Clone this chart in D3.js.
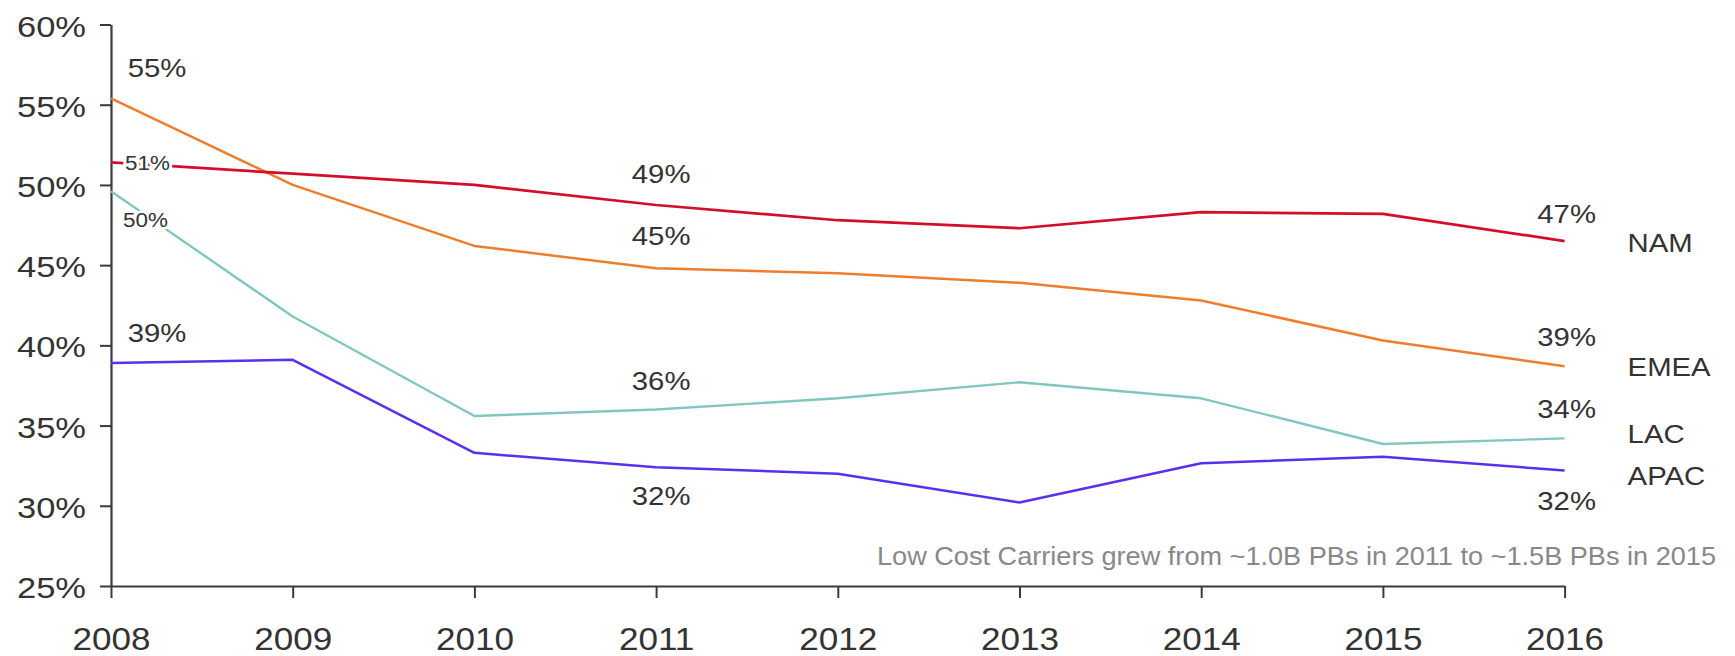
<!DOCTYPE html>
<html>
<head>
<meta charset="utf-8">
<script src="https://cdn.jsdelivr.net/npm/d3@7"></script>
<style>
  html, body { margin: 0; padding: 0; background: #fff; }
  svg { display: block; }
  text { font-family: "Liberation Sans", Arial, sans-serif; fill: #333; }
</style>
</head>
<body>
<svg id="chart" width="1735" height="656"></svg>
<script>
// ---------------- DATA ----------------
const years = ["2008","2009","2010","2011","2012","2013","2014","2015","2016"];
const seriesNames = ["NAM","EMEA","LAC","APAC"];
const namValues  = [51.4, 50.7, 50.0, 48.75, 47.8, 47.3, 48.3, 48.2, 46.5];
const emeaValues = [55.4, 50.0, 46.2, 44.8, 44.5, 43.9, 42.8, 40.3, 38.7];
const lacValues  = [49.6, 41.8, 35.6, 36.0, 36.7, 37.7, 36.7, 33.85, 34.2];
const apacValues = [38.9, 39.1, 33.3, 32.4, 32.0, 30.2, 32.65, 33.06, 32.2];
const yTicks = [25, 30, 35, 40, 45, 50, 55, 60];
const yTickLabels = ["25%","30%","35%","40%","45%","50%","55%","60%"];
// data labels: series, year, text
const dataLabels = [
  {s:"EMEA", year:"2008", text:"55%"},
  {s:"NAM",  year:"2008", text:"51%"},
  {s:"LAC",  year:"2008", text:"50%"},
  {s:"APAC", year:"2008", text:"39%"},
  {s:"NAM",  year:"2011", text:"49%"},
  {s:"EMEA", year:"2011", text:"45%"},
  {s:"LAC",  year:"2011", text:"36%"},
  {s:"APAC", year:"2011", text:"32%"},
  {s:"NAM",  year:"2016", text:"47%"},
  {s:"EMEA", year:"2016", text:"39%"},
  {s:"LAC",  year:"2016", text:"34%"},
  {s:"APAC", year:"2016", text:"32%"}
];
const noteText = "Low Cost Carriers grew from ~1.0B PBs in 2011 to ~1.5B PBs in 2015";

// ---------------- LAYOUT / STYLE ----------------
const colors = {NAM:"#d40d2b", EMEA:"#ee7d2e", LAC:"#82c6c0", APAC:"#5a2ff0"};
const widths = {NAM:2.7, EMEA:2.5, LAC:2.4, APAC:2.5};
const stretch = 1.15;
const labelLayout = [
  {dx:46, dy:-21, anchor:"middle", size:25.5},
  {dx:14, dy:7.5, anchor:"start", size:19.5, halo:true},
  {dx:12, dy:36, anchor:"start", size:19.5, halo:true},
  {dx:46, dy:-21, anchor:"middle", size:25.5},
  {dx:5, dy:-22, anchor:"middle", size:25.5},
  {dx:5, dy:-23, anchor:"middle", size:25.5},
  {dx:5, dy:-20, anchor:"middle", size:25.5},
  {dx:5, dy:38, anchor:"middle", size:25.5},
  {dx:2, dy:-18.5, anchor:"middle", size:25.5},
  {dx:2, dy:-20, anchor:"middle", size:25.5},
  {dx:2, dy:-20, anchor:"middle", size:25.5},
  {dx:2, dy:39.5, anchor:"middle", size:25.5}
];
const nameOffsets = {NAM:10.6, EMEA:9.4, LAC:4.3, APAC:15};

const valuesBy = {NAM:namValues, EMEA:emeaValues, LAC:lacValues, APAC:apacValues};

const svg = d3.select("#chart");
svg.append("rect").attr("width",1735).attr("height",656).attr("fill","#fff");

const x = d3.scalePoint().domain(years).range([111, 1564.6]);
const y = d3.scaleLinear().domain([25, 60]).range([586, 24.5]);

// ---- Axes ----
const yAxis = d3.axisLeft(y).tickValues(yTicks)
  .tickFormat((d,i) => yTickLabels[i]).tickSize(11).tickSizeOuter(0).tickPadding(0);
const gy = svg.append("g").attr("transform","translate(111,0)").call(yAxis);
gy.select(".domain").attr("stroke","#3a3a3a").attr("stroke-width",2.2);
gy.selectAll(".tick line").attr("stroke","#3a3a3a").attr("stroke-width",2);
gy.selectAll(".tick text")
  .attr("x",null).attr("dy",null)
  .attr("font-size",30).attr("fill","#333")
  .attr("text-anchor","end")
  .attr("transform","translate(-25,11.5) scale(" + stretch + ",1)")
  .style("font-family","'Liberation Sans', Arial, sans-serif");

const xAxis = d3.axisBottom(x).tickSize(12).tickSizeOuter(0).tickPadding(0);
const gx = svg.append("g").attr("transform","translate(0,586)").call(xAxis);
gx.select(".domain").attr("stroke","#3a3a3a").attr("stroke-width",2.2);
gx.selectAll(".tick line").attr("stroke","#3a3a3a").attr("stroke-width",2);
gx.selectAll(".tick text")
  .attr("y",null).attr("dy",null)
  .attr("font-size",30.5).attr("fill","#333")
  .attr("text-anchor","middle")
  .attr("transform","translate(0,64) scale(" + stretch + ",1)")
  .style("font-family","'Liberation Sans', Arial, sans-serif");

// ---- Lines ----
const line = d3.line().x((d,i) => x(years[i])).y(d => y(d));
const order = ["LAC","APAC","EMEA","NAM"];
order.forEach(s => {
  svg.append("path")
    .datum(valuesBy[s])
    .attr("fill","none")
    .attr("stroke", colors[s])
    .attr("stroke-width", widths[s])
    .attr("stroke-linejoin","round")
    .attr("d", line);
});

// ---- Data labels ----
dataLabels.forEach((d,i) => {
  const L = labelLayout[i];
  const vi = years.indexOf(d.year);
  const px = x(d.year) + L.dx;
  const py = y(valuesBy[d.s][vi]) + L.dy;
  const t = svg.append("text")
    .attr("transform","translate(" + px + "," + py + ") scale(" + stretch + ",1)")
    .attr("text-anchor", L.anchor)
    .attr("font-size", L.size)
    .text(d.text);
  if (L.halo) {
    t.attr("stroke","#fff").attr("stroke-width",5).attr("paint-order","stroke");
  }
});

// ---- Series names at right ----
seriesNames.forEach(s => {
  const vi = years.length - 1;
  svg.append("text")
    .attr("transform","translate(" + (x(years[vi]) + 63) + "," + (y(valuesBy[s][vi]) + nameOffsets[s]) + ") scale(" + stretch + ",1)")
    .attr("text-anchor","start")
    .attr("font-size",25.5)
    .text(s);
});

// ---- Note ----
svg.append("text")
  .attr("x", 877).attr("y", 565)
  .attr("font-size", 25.5)
  .style("fill","#888")
  .attr("textLength", 839)
  .attr("lengthAdjust", "spacingAndGlyphs")
  .text(noteText);
</script>
</body>
</html>
